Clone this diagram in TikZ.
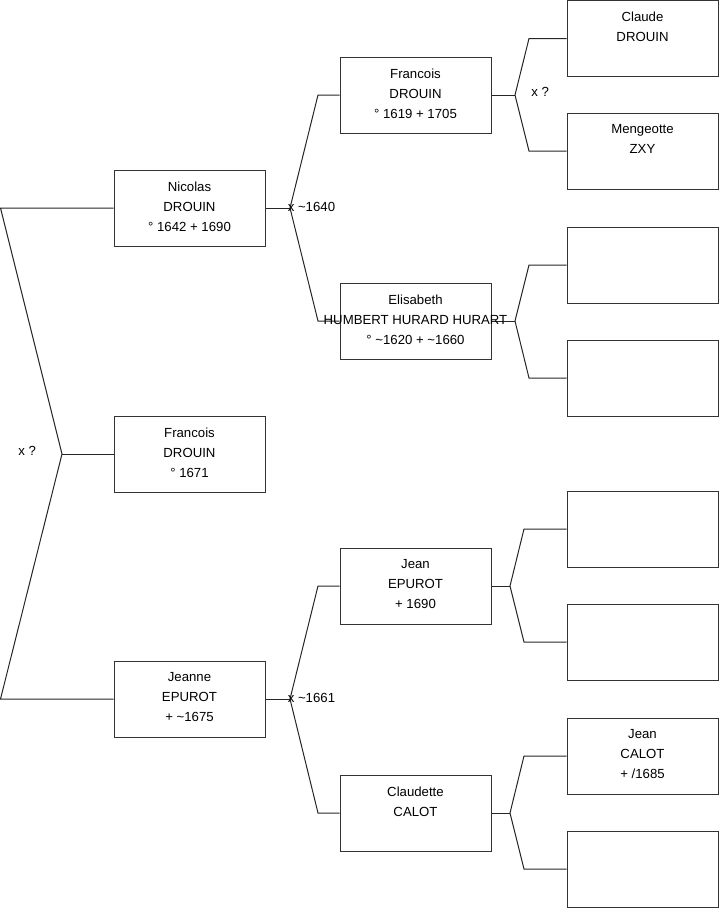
\documentclass[tikz,border=0pt]{standalone}
\usepackage{fontspec}
\setmainfont{Liberation Sans}
\begin{document}
\begin{tikzpicture}[x=0.75pt,y=-0.75pt,
  box/.style={draw=black!80,line width=0.75pt,minimum width=113.25pt,minimum height=57pt,inner sep=0pt},
  txt/.style={anchor=north,align=center,inner sep=0pt,font=\fontsize{9.9}{15}\selectfont},
  lnk/.style={draw=black!85,line width=0.75pt},
  lbl/.style={font=\fontsize{9.9}{12}\selectfont,inner sep=0pt,anchor=west}]
\useasboundingbox (0,0) rectangle (719,908);

% boxes column 1
\node[box] (a1) at (189.5,208) {};
\node[box] (a2) at (189.5,454) {};
\node[box] (a3) at (189.5,699) {};
% column 2
\node[box] (b1) at (415.5,95) {};
\node[box] (b2) at (415.5,321) {};
\node[box] (b3) at (415.5,586) {};
\node[box] (b4) at (415.5,813) {};
% column 3
\node[box] (c1) at (642.5,38.5) {};
\node[box] (c2) at (642.5,151) {};
\node[box] (c3) at (642.5,265) {};
\node[box] (c4) at (642.5,378) {};
\node[box] (c5) at (642.5,529) {};
\node[box] (c6) at (642.5,642) {};
\node[box] (c7) at (642.5,756) {};
\node[box] (c8) at (642.5,869) {};

% fork coordinates
\coordinate (r1) at (0.5,208);
\coordinate (r2) at (0.5,699);
\coordinate (rf) at (62,454);
\coordinate (f1) at (290,208);
\coordinate (f1u) at (318,95);
\coordinate (f1d) at (318,321);
\coordinate (f2) at (290,699);
\coordinate (f2u) at (318,586);
\coordinate (f2d) at (318,813);
\coordinate (g1) at (515,95);
\coordinate (g1u) at (529,38.5);
\coordinate (g1d) at (529,151);
\coordinate (g2) at (515,321);
\coordinate (g2u) at (529,265);
\coordinate (g2d) at (529,378);
\coordinate (g3) at (510,586);
\coordinate (g3u) at (524,529);
\coordinate (g3d) at (524,642);
\coordinate (g4) at (510,813);
\coordinate (g4u) at (524,756);
\coordinate (g4d) at (524,869);

% connectors
\draw[lnk] (a1.west) -- (r1) -- (rf) -- (r2) -- (a3.west);
\draw[lnk] (rf) -- (a2.west);
\draw[lnk] (a1.east) -- (f1);
\draw[lnk] (b1.west) -- (f1u) -- (f1) -- (f1d) -- (b2.west);
\draw[lnk] (a3.east) -- (f2);
\draw[lnk] (b3.west) -- (f2u) -- (f2) -- (f2d) -- (b4.west);
\draw[lnk] (b1.east) -- (g1);
\draw[lnk] (c1.west) -- (g1u) -- (g1) -- (g1d) -- (c2.west);
\draw[lnk] (b2.east) -- (g2);
\draw[lnk] (c3.west) -- (g2u) -- (g2) -- (g2d) -- (c4.west);
\draw[lnk] (b3.east) -- (g3);
\draw[lnk] (c5.west) -- (g3u) -- (g3) -- (g3d) -- (c6.west);
\draw[lnk] (b4.east) -- (g4);
\draw[lnk] (c7.west) -- (g4u) -- (g4) -- (g4d) -- (c8.west);

% labels
\node[lbl] (x0) at (18,451) {x ?};
\node[lbl] (x1) at (287.5,207) {x \textasciitilde1640};
\node[lbl] (x2) at (287.5,698) {x \textasciitilde1661};
\node[lbl] (x3) at (531,92) {x ?};

% texts
\node[txt] (ta1) at ([yshift=-9pt]a1.north) {Nicolas\\DROUIN\\° 1642 + 1690};
\node[txt] (ta2) at ([yshift=-9pt]a2.north) {Francois\\DROUIN\\° 1671};
\node[txt] (ta3) at ([yshift=-9pt]a3.north) {Jeanne\\EPUROT\\ + \textasciitilde1675};
\node[txt] (tb1) at ([yshift=-9pt]b1.north) {Francois\\DROUIN\\° 1619 + 1705};
\node[txt] (tb2) at ([yshift=-9pt]b2.north) {Elisabeth\\HUMBERT HURARD HURART\\° \textasciitilde1620 + \textasciitilde1660};
\node[txt] (tb3) at ([yshift=-9pt]b3.north) {Jean\\EPUROT\\ + 1690};
\node[txt] (tb4) at ([yshift=-9pt]b4.north) {Claudette\\CALOT};
\node[txt] (tc1) at ([yshift=-9pt]c1.north) {Claude\\DROUIN};
\node[txt] (tc2) at ([yshift=-9pt]c2.north) {Mengeotte\\ZXY};
\node[txt] (tc7) at ([yshift=-9pt]c7.north) {Jean\\CALOT\\ + /1685};
\end{tikzpicture}
\end{document}
